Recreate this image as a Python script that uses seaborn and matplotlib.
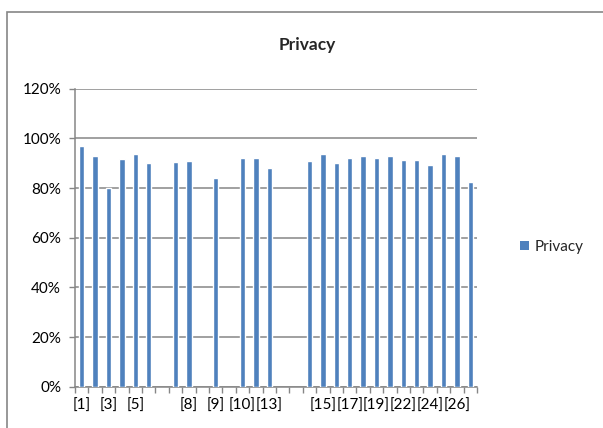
import numpy as np
import pandas as pd
import matplotlib
matplotlib.use("Agg")
import matplotlib.pyplot as plt
import seaborn as sns
from matplotlib.ticker import FuncFormatter, FixedLocator
from matplotlib.patches import Rectangle, Patch

# ---- data ----
categories = ["[1]", "[2]", "[3]", "[4]", "[5]", "[6]", "", "[7]", "[8]", "",
              "[9]", "", "[10]", "[11]", "[13]", "", "", "[14]", "[15]", "[16]",
              "[17]", "[18]", "[19]", "[20]", "[22]", "[23]", "[24]", "[25]", "[26]", "[27]"]
values = [0.969, 0.927, 0.800, 0.918, 0.939, 0.899, np.nan, 0.903, 0.910, np.nan,
          0.839, np.nan, 0.919, 0.919, 0.879, np.nan, np.nan, 0.910, 0.939, 0.899,
          0.919, 0.930, 0.919, 0.931, 0.911, 0.914, 0.894, 0.938, 0.930, 0.825]
series_name = "Privacy"
y_ticks = [0, 0.2, 0.4, 0.6, 0.8, 1.0, 1.2]

BLUE = "#4F81BD"
GRID = "#868686"

sns.set_style("white")
plt.rcParams["font.family"] = ["Lato", "DejaVu Sans"]

W, H = 603, 428
fig = plt.figure(figsize=(W / 100, H / 100), dpi=100)
ax = fig.add_axes([75 / W, 1 - 386.7 / H, 402 / W, (386.7 - 88.7) / H])

slots = list(range(len(categories)))
df = pd.DataFrame({"slot": slots, "value": values})
sns.barplot(data=df, x="slot", y="value", order=slots, color=BLUE,
            saturation=1, width=0.4, errorbar=None, ax=ax, zorder=3)

ax.set_xlim(-0.5, len(categories) - 0.5)
ax.set_ylim(0, 1.2)
ax.set_yticks(y_ticks)
ax.yaxis.set_major_formatter(FuncFormatter(lambda v, p: f"{v*100:.0f}%"))
ax.yaxis.grid(True, color=GRID, linewidth=1.1, zorder=0)
ax.set_axisbelow(True)

# x labels: every other category shown
ax.set_xticks(slots)
ax.set_xticklabels([c if i % 2 == 0 else "" for i, c in enumerate(categories)])
ax.xaxis.set_minor_locator(FixedLocator(np.arange(-0.5, len(categories), 1.0)))
ax.tick_params(axis="x", which="major", length=0, pad=9, labelsize=11, colors="black")
ax.tick_params(axis="x", which="minor", length=4, width=1, color=GRID, bottom=True)
ax.tick_params(axis="y", which="major", length=4, width=1, color=GRID, left=True,
               pad=6, labelsize=11, labelcolor="black")
ax.set_xlabel("")
ax.set_ylabel("")

for s in ["top", "right"]:
    ax.spines[s].set_visible(False)
for s in ["left", "bottom"]:
    ax.spines[s].set_color(GRID)
    ax.spines[s].set_linewidth(1.1)

fig.text(307 / W, 1 - 45 / H, "Privacy", ha="center", va="center",
         fontsize=12.5, fontweight="bold")

handle = Patch(facecolor=BLUE, edgecolor="none", label=series_name)
fig.legend(handles=[handle], loc="center left",
           bbox_to_anchor=(506 / W, 1 - 247 / H), frameon=False,
           fontsize=11, handlelength=0.6, handleheight=0.6, handletextpad=0.4)

# outer chart-area frame (left and top edges visible)
fig.add_artist(Rectangle((7 / W, -0.2), 1.2, (H - 12) / H + 0.2,
                         transform=fig.transFigure, fill=False,
                         edgecolor=GRID, linewidth=1.2))

fig.savefig("out.png", dpi=100)
